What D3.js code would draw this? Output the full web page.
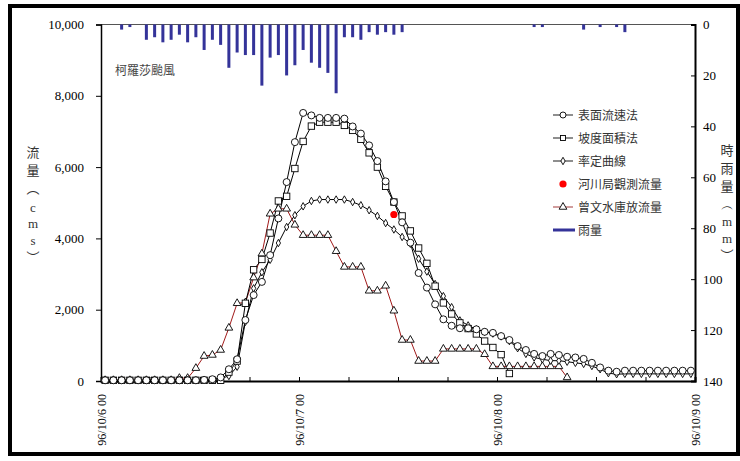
<!DOCTYPE html>
<html>
<head>
<meta charset="utf-8">
<script src="https://cdn.jsdelivr.net/npm/d3@7"></script>
<style>
  body { margin: 0; background: #fff; }
  svg { display: block; }
</style>
</head>
<body>
<svg id="chart"></svg>
<script>
// Typhoon Krosa flow hydrograph, 96/10/6 - 96/10/9 (hourly)

const dayLabels = ['96/10/6 00', '96/10/7 00', '96/10/8 00', '96/10/9 00'];
const flowTicks = [0, 2000, 4000, 6000, 8000, 10000];
const rainTicks = [0, 20, 40, 60, 80, 100, 120, 140];

// hourly rainfall (mm), hour 0..71
const rain = [0, 0, 2, 1, 0, 6, 5, 7, 6, 4, 7, 5, 10, 6, 8, 17, 11, 12, 12, 24, 13, 12, 20, 16,
  10, 15, 17, 19, 27, 5, 5, 6, 3, 4, 3, 4, 3, 0, 0, 0, 0, 0, 0, 0, 0, 0, 0, 0,
  0, 0, 0, 0, 1, 1, 0, 0, 0, 0, 2, 0, 1, 0, 1, 3, 0, 0, 0, 0, 0, 0, 0, 0];

// 表面流速法 (cms)
const surfaceFlow = [20, 20, 20, 20, 20, 20, 20, 20, 20, 20, 20, 20, 30, 50, 100, 330, 610, 1710, 2410, 2780, 3530, 4560, 5580, 6700,
  7520, 7450, 7380, 7380, 7380, 7360, 7140, 6940, 6610, 6170, 5600, 5020, 4450, 3880, 3030, 2620, 2150, 1730, 1550, 1480,
  1480, 1450, 1380, 1350, 1260, 1150, 980, 870, 760, 700, 760, 730, 680, 660, 620, 510, 380, 290, 260, 290,
  290, 290, 290, 290, 290, 290, 290, 290];

// 坡度面積法 (cms), hour 0..49
const slopeFlow = [20, 20, 20, 20, 20, 20, 20, 20, 20, 20, 20, 20, 20, 20, 20, 250, 560, 2180, 3120, 3410, 4150, 5050, 5180, 5960,
  6720, 7150, 7260, 7260, 7260, 7170, 7030, 6780, 6400, 6000, 5460, 5020, 4630, 4210, 3730, 3300, 2660, 2190, 1880, 1630,
  1470, 1320, 1120, 940, 740, 210];

// 率定曲線 (cms)
const ratingFlow = [20, 20, 20, 20, 20, 20, 20, 20, 20, 20, 20, 20, 20, 30, 70, 140, 400, 1660, 2600, 3050, 3400, 3870, 4320, 4650,
  4900, 5050, 5090, 5090, 5090, 5090, 5020, 4930, 4790, 4630, 4430, 4250, 4040, 3850, 3430, 3070, 2720, 2380, 2070, 1700,
  1560, 1450, 1380, 1330, 1250, 1120, 920, 760, 660, 610, 570, 570, 540, 510, 480, 420, 330, 220, 190, 200,
  200, 200, 200, 200, 200, 200, 200, 200];

// 曾文水庫放流量 (cms), hour 0..56
const reservoirFlow = [20, 20, 20, 20, 20, 20, 20, 20, 20, 80, 80, 360, 700, 730, 870, 1490, 2180, 2200, 2900, 3570, 4690, 4830, 4830, 4380,
  4090, 4090, 4090, 4090, 3640, 3200, 3200, 3200, 2530, 2530, 2670, 1970, 1150, 1150, 560, 560, 560, 900, 900, 900,
  900, 900, 750, 410, 410, 410, 410, 410, 410, 410, 410, 410, 100];

// 河川局觀測流量 (hour, cms)
const observed = [{ hour: 35, flow: 4670 }];

const legendItems = ['表面流速法', '坡度面積法', '率定曲線', '河川局觀測流量', '曾文水庫放流量', '雨量'];
const leftTitle = ['流', '量', '︵', 'c', 'm', 's', '︶'];
const rightTitle = ['時', '雨', '量', '︵', 'm', 'm', '︶'];

const width = 740;
const height = 461;
const plot = { left: 101, right: 695, top: 24.5, bottom: 381 };
const serif = '"Liberation Serif", "Times New Roman", serif';
const cjk = '"Noto Sans CJK TC", "Noto Sans CJK SC", sans-serif';
const redLine = '#a11a1a';
const rainBlue = '#343399';

const svg = d3.select('#chart')
  .attr('width', width)
  .attr('height', height);

// outer frame
svg.append('rect')
  .attr('x', 10).attr('y', 6)
  .attr('width', 728).attr('height', 448)
  .style('fill', 'none')
  .style('stroke', '#000')
  .style('stroke-width', 4);

const x = d3.scaleLinear().domain([0, 72]).range([plot.left, plot.right]);
const yFlow = d3.scaleLinear().domain([0, 10000]).range([plot.bottom, plot.top]);
const yRain = d3.scaleLinear().domain([0, 140]).range([plot.top, plot.bottom]);
const cx = i => x(i + 0.5);

// top border of the plot area
svg.append('line')
  .attr('x1', plot.left).attr('x2', plot.right)
  .attr('y1', plot.top).attr('y2', plot.top)
  .style('stroke', '#555')
  .style('stroke-width', 1);

// rainfall bars hanging from the top
const rainIdx = rain.map((v, i) => ({ v, i })).filter(d => d.v > 0);
svg.append('g')
  .selectAll('rect')
  .data(rainIdx)
  .enter()
  .append('rect')
  .attr('x', d => cx(d.i) - 1.5)
  .attr('y', yRain(0))
  .attr('width', 3)
  .attr('height', d => yRain(d.v) - yRain(0))
  .style('fill', rainBlue);

// left axis
const yAxisL = d3.axisLeft(yFlow)
  .tickValues(flowTicks)
  .tickSize(5)
  .tickPadding(12)
  .tickFormat(d3.format(','));

svg.append('g')
  .attr('transform', `translate(${plot.left},0)`)
  .call(yAxisL)
  .call(g => g.select('.domain').style('stroke-width', 1.5))
  .selectAll('text')
  .style('font-family', serif)
  .style('font-size', '13px')
  .style('fill', '#000');

// right axis
const yAxisR = d3.axisRight(yRain)
  .tickValues(rainTicks)
  .tickSize(-4)
  .tickPadding(8);

svg.append('g')
  .attr('transform', `translate(${plot.right},0)`)
  .call(yAxisR)
  .call(g => g.select('.domain').style('stroke-width', 2))
  .selectAll('text')
  .style('font-family', serif)
  .style('font-size', '13px')
  .style('fill', '#000');

// bottom axis: ticks every 6 h, labels every day
const xAxis = d3.axisBottom(x)
  .tickValues(d3.range(0, 73, 6))
  .tickSize(-4)
  .tickFormat('');

svg.append('g')
  .attr('transform', `translate(0,${plot.bottom})`)
  .call(xAxis)
  .call(g => g.select('.domain').style('stroke-width', 2));

svg.append('g')
  .selectAll('text')
  .data(dayLabels)
  .enter()
  .append('text')
  .attr('transform', (d, i) => `translate(${x(i * 24) + 4.5},${plot.bottom + 13}) rotate(-90)`)
  .attr('text-anchor', 'end')
  .style('font-family', serif)
  .style('font-size', '12px')
  .style('fill', '#000')
  .text(d => d);

// series lines
const line = d3.line()
  .x((d, i) => cx(i))
  .y(d => yFlow(d));

svg.append('path')
  .datum(reservoirFlow)
  .attr('d', line)
  .style('fill', 'none')
  .style('stroke', redLine)
  .style('stroke-width', 1);

[ratingFlow, slopeFlow, surfaceFlow].forEach(s => {
  svg.append('path')
    .datum(s)
    .attr('d', line)
    .style('fill', 'none')
    .style('stroke', '#000')
    .style('stroke-width', 1);
});

// markers
const tri = d3.symbol().type(d3.symbolTriangle).size(26);
const dia = d3.symbol().type(d3.symbolDiamond).size(16);

svg.append('g')
  .selectAll('path')
  .data(reservoirFlow)
  .enter()
  .append('path')
  .attr('d', tri)
  .attr('transform', (d, i) => `translate(${cx(i)},${yFlow(d)})`)
  .style('fill', '#fff')
  .style('stroke', '#000')
  .style('stroke-width', 0.9);

svg.append('g')
  .selectAll('path')
  .data(ratingFlow)
  .enter()
  .append('path')
  .attr('d', dia)
  .attr('transform', (d, i) => `translate(${cx(i)},${yFlow(d)})`)
  .style('fill', '#fff')
  .style('stroke', '#000')
  .style('stroke-width', 0.9);

svg.append('g')
  .selectAll('rect')
  .data(slopeFlow)
  .enter()
  .append('rect')
  .attr('x', (d, i) => cx(i) - 3.2)
  .attr('y', d => yFlow(d) - 3.2)
  .attr('width', 6.4)
  .attr('height', 6.4)
  .style('fill', '#fff')
  .style('stroke', '#000')
  .style('stroke-width', 0.9);

svg.append('g')
  .selectAll('circle')
  .data(surfaceFlow)
  .enter()
  .append('circle')
  .attr('cx', (d, i) => cx(i))
  .attr('cy', d => yFlow(d))
  .attr('r', 3.5)
  .style('fill', '#fff')
  .style('stroke', '#000')
  .style('stroke-width', 0.9);

svg.append('g')
  .selectAll('circle')
  .data(observed)
  .enter()
  .append('circle')
  .attr('cx', d => cx(d.hour))
  .attr('cy', d => yFlow(d.flow))
  .attr('r', 3.6)
  .style('fill', '#f00');

// typhoon name
svg.append('text')
  .attr('x', 115)
  .attr('y', 75)
  .style('font-family', cjk)
  .style('font-size', '12px')
  .style('fill', '#444')
  .text('柯羅莎颱風');

// legend
const legend = svg.append('g')
  .attr('transform', 'translate(553,115)');

const rowH = 23;
legendItems.forEach((name, k) => {
  const g = legend.append('g').attr('transform', `translate(0,${k * rowH})`);
  if (k === 3) {
    g.append('circle').attr('cx', 10).attr('cy', 0).attr('r', 3.6).style('fill', '#f00');
  } else if (k === 5) {
    g.append('line').attr('x1', 0).attr('x2', 22).attr('y1', 0).attr('y2', 0)
      .style('stroke', rainBlue).style('stroke-width', 3);
  } else {
    g.append('line').attr('x1', 0).attr('x2', 20).attr('y1', 0).attr('y2', 0)
      .style('stroke', k === 4 ? '#b35c5c' : '#444').style('stroke-width', 1.2);
    let m;
    if (k === 0) m = g.append('circle').attr('cx', 10).attr('cy', 0).attr('r', 3);
    if (k === 1) m = g.append('rect').attr('x', 7.5).attr('y', -2.5).attr('width', 5).attr('height', 5);
    if (k === 2) m = g.append('path').attr('d', dia).attr('transform', 'translate(10,0)');
    if (k === 4) m = g.append('path').attr('d', tri).attr('transform', 'translate(10,0)');
    m.style('fill', '#fff').style('stroke', '#000').style('stroke-width', 0.9);
  }
  g.append('text')
    .attr('x', 25)
    .attr('y', 0)
    .attr('dy', '0.38em')
    .style('font-family', cjk)
    .style('font-size', '12px')
    .style('fill', '#333')
    .text(name);
});

// vertical axis titles
const titleStep = [0, 18, 36, 55, 71, 88, 105];
svg.append('g')
  .selectAll('text')
  .data(leftTitle)
  .enter()
  .append('text')
  .attr('x', 33)
  .attr('y', (d, i) => 152 + titleStep[i])
  .attr('dy', '0.35em')
  .attr('text-anchor', 'middle')
  .style('font-family', (d, i) => (i >= 3 && i <= 5 ? serif : cjk))
  .style('font-size', '13px')
  .style('fill', '#333')
  .text(d => d);

svg.append('g')
  .selectAll('text')
  .data(rightTitle)
  .enter()
  .append('text')
  .attr('x', 727)
  .attr('y', (d, i) => 150 + titleStep[i])
  .attr('dy', '0.35em')
  .attr('text-anchor', 'middle')
  .style('font-family', (d, i) => (i >= 3 && i <= 5 ? serif : cjk))
  .style('font-size', '13px')
  .style('fill', '#333')
  .text(d => d);
</script>
</body>
</html>
